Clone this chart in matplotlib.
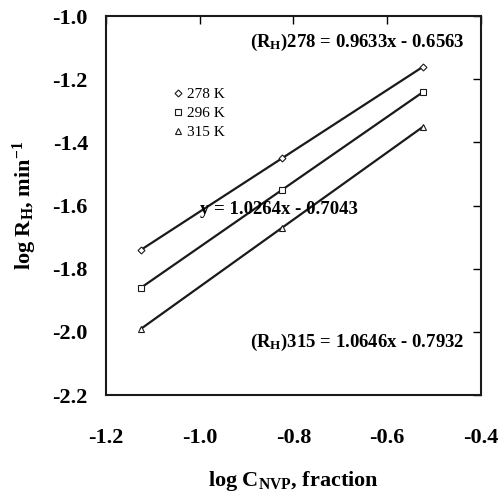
import matplotlib
matplotlib.use("Agg")
from matplotlib import pyplot as plt
from matplotlib.lines import Line2D

plt.rcParams['font.family'] = ['Liberation Serif', 'DejaVu Serif']
plt.rcParams['mathtext.default'] = 'regular'

# log of NVP fraction and log of rate for each temperature
log_c = [-1.125, -0.824, -0.523]
rh_278 = [-1.74, -1.45, -1.16]
rh_296 = [-1.86, -1.55, -1.24]
rh_315 = [-1.99, -1.67, -1.35]
temps = ['278 K', '296 K', '315 K']
marks = ['D', 's', '^']

fig = plt.figure(figsize=(4.99, 4.94), dpi=100)
ax = fig.add_axes([0.2124, 0.2004, 0.7515, 0.7672])

for ys, m in zip([rh_278, rh_296, rh_315], marks):
    ax.plot(log_c, ys, color='#1a1a1a', linewidth=1.6, marker=m,
            markersize=4 if m != 'D' else 3.5, markerfacecolor='white',
            markeredgecolor='#1a1a1a', markeredgewidth=0.8)

ax.set_xlim(-1.2, -0.4)
ax.set_ylim(-2.2, -1.0)
ax.set_xticks([-1.2, -1.0, -0.8, -0.6, -0.4])
ax.set_yticks([-2.2, -2.0, -1.8, -1.6, -1.4, -1.2, -1.0])
ax.xaxis.set_major_formatter(matplotlib.ticker.FormatStrFormatter('%.1f'))
ax.yaxis.set_major_formatter(matplotlib.ticker.FormatStrFormatter('%.1f'))

for s in ax.spines.values():
    s.set_linewidth(1.5)
    s.set_color('#1a1a1a')

ax.tick_params(axis='x', which='both', direction='in', top=True, bottom=False,
               length=6, width=1, pad=24, labelsize=16)
ax.tick_params(axis='y', which='both', direction='in', right=True, left=False,
               length=6, width=1, pad=13, labelsize=16)
for lab in ax.get_xticklabels() + ax.get_yticklabels():
    lab.set_fontweight('bold')

ax.set_xlabel('log C$_{NVP}$, fraction', fontsize=16, fontweight='bold', labelpad=15)
ax.set_ylabel('log R$_{H}$, min$^{-1}$', fontsize=16, fontweight='bold', labelpad=10)

# fitted equations
ax.text(-0.665, -1.085, '(R$_H$)278 = 0.9633x - 0.6563', ha='center', va='center',
        fontsize=13.5, fontweight='bold')
ax.text(-0.831, -1.614, 'y = 1.0264x - 0.7043', ha='center', va='center',
        fontsize=13.5, fontweight='bold')
ax.text(-0.665, -2.032, '(R$_H$)315 = 1.0646x - 0.7932', ha='center', va='center',
        fontsize=13.5, fontweight='bold')

handles = [Line2D([], [], linestyle='none', marker=m, markersize=4 if m != 'D' else 3.5,
                  markerfacecolor='white', markeredgecolor='#1a1a1a',
                  markeredgewidth=0.8) for m in marks]
ax.legend(handles, temps, loc='upper left', bbox_to_anchor=(0.16, 0.832),
          frameon=False, fontsize=11, handlelength=0.6, handletextpad=0.3,
          labelspacing=0.35, borderpad=0)

fig.savefig('out.png', dpi=100)
